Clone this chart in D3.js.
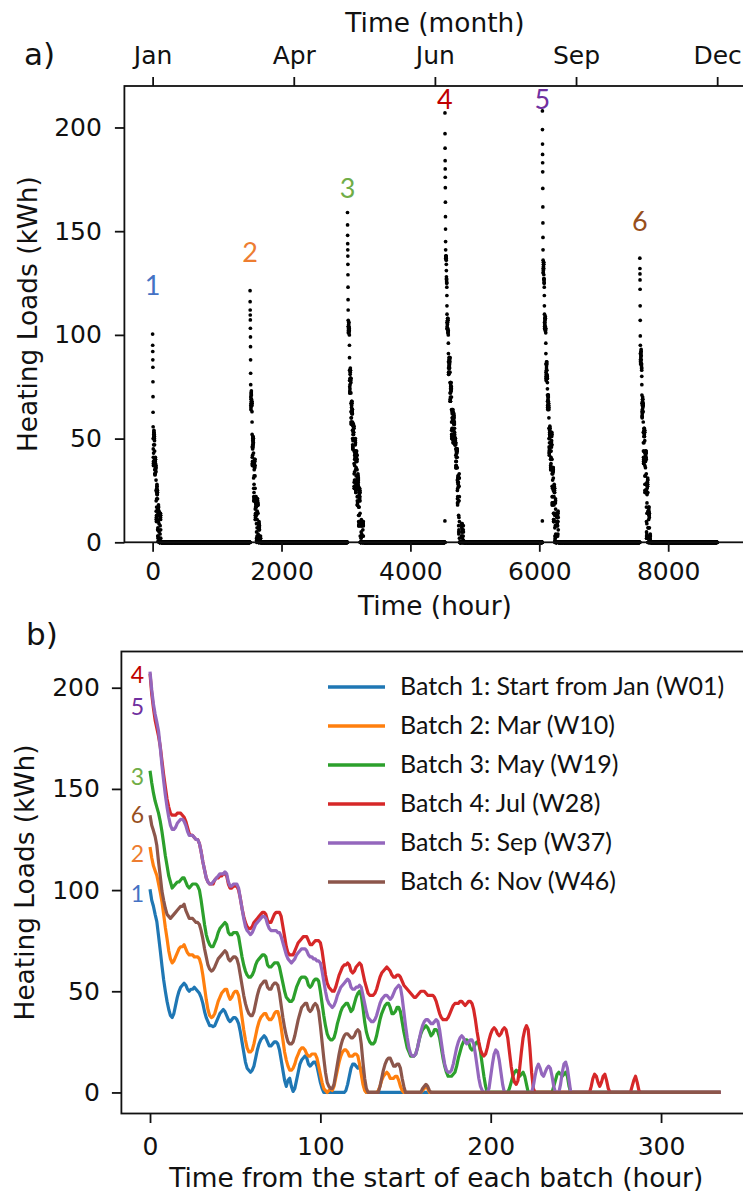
<!DOCTYPE html>
<html>
<head>
<meta charset="utf-8">
<script src="https://cdn.jsdelivr.net/npm/d3@7"></script>
<style>
  body { margin: 0; background: #fff; }
  svg text { font-family: "DejaVu Sans", sans-serif; fill: #111; }
  .note { font-family: Lato, "Open Sans", sans-serif; }
</style>
</head>
<body>
<div id="chart"></div>
<script>
// Batches are two weeks long, hourly loads in kWh; hours after the listed values are zero
const BATCH_HOURS = 336
const YEAR_HOURS = 8760

const batchNames = [
    'Batch 1: Start from Jan (W01)',
    'Batch 2: Mar (W10)',
    'Batch 3: May (W19)',
    'Batch 4: Jul (W28)',
    'Batch 5: Sep (W37)',
    'Batch 6: Nov (W46)'
]
const batchStartHours = [0, 1512, 3024, 4536, 6048, 7560]
const lineColors = ['#1f77b4', '#ff7f0e', '#2ca02c', '#d62728', '#9467bd', '#8c564b']
const labelColors = ['#4472c4', '#ed7d31', '#70ad47', '#c00000', '#7030a0', '#974f1c']

const monthTicks = [0, 2190, 4380, 6570, 8760]
const monthLabels = ['Jan', 'Apr', 'Jun', 'Sep', 'Dec']
const hourTicks = [0, 2000, 4000, 6000, 8000]
const batchHourTicks = [0, 100, 200, 300]
const loadTicks = [0, 50, 100, 150, 200]

// where the batch numbers sit (kWh)
const topLabelLoads = [119, 135, 166, 209, 209, 150]
const bottomLabelLoads = [94, 114, 152, 202.5, 186.5, 133]

// two lone points just before batches 4 and 5
const strayPoints = [[4535, 10.3], [6047, 10.3]]

const batch1 = [
    100.4, 95, 92, 88, 84.4, 77.4, 70.2, 62.7, 55.7, 50, 45, 41, 38,
    37, 39, 43, 47, 50, 52, 53, 54, 53, 51, 50, 51, 51, 52, 51, 50, 49, 47, 44, 40, 37, 35, 33, 33, 32.5,
    33, 35, 37, 39, 40, 41, 40, 38, 36, 35, 36, 37, 37, 36, 34, 30, 25, 20, 15, 12, 11, 10, 11,
    13, 17, 21, 24, 26, 27, 28, 27, 25, 23, 23, 24, 25, 25, 24, 21, 16, 11, 6, 3, 6, 7, 3, 0.5,
    2, 6, 10, 14, 16, 17, 18, 17, 14, 13, 14, 15, 15, 13, 9, 5, 2, 0, 0, 0, 0, 0, 0, 0,
    0, 0, 0, 0, 0, 0, 1, 4, 8, 12, 14, 14, 13, 12, 13, 11, 6, 2, 0
]
const batch2 = [
    121.3, 116, 112, 109.6, 107.2, 103.2, 99, 94.3, 88, 81.5, 76, 70, 66,
    64, 65, 67, 69, 71, 72, 72, 73, 71, 69, 68, 68, 68, 67, 67, 67, 66, 63, 58, 52, 46, 41, 38, 37, 37.5,
    39, 42, 45, 47, 49, 50, 51, 51, 48, 46, 47, 49, 50, 50, 48, 43, 37, 31, 26, 22, 20, 20, 21,
    24, 28, 32, 35, 37, 38, 39, 39, 37, 36, 36, 37, 39, 40, 40, 37, 32, 26, 20, 16, 13, 11, 11, 12,
    14, 17, 19, 21, 22, 22, 21, 19, 18, 18, 19, 19, 19, 17, 13, 9, 5, 2, 1, 0, 1, 2, 1, 3,
    7, 11, 15, 18, 20, 21, 21, 20, 18, 18, 18, 19, 19, 18, 14, 9, 4, 1, 0, 0, 0, 0, 0, 0,
    0, 1, 3, 6, 8, 9, 10, 9, 7, 7, 7, 8, 8, 6, 3, 1,
    0, 0, 0, 0, 0, 0, 0, 0, 0, 0, 0, 1, 2, 3, 2, 0
]
const batch3 = [
    159, 153, 148, 144, 141, 138, 134, 129, 123, 117, 112, 107, 104,
    101, 102, 103, 104, 104, 105, 106, 106, 104, 102, 101, 102, 103, 103, 103, 102, 100, 95, 89, 83, 78, 75, 73, 72, 72,
    74, 76, 79, 81, 82, 83, 84, 83, 79, 78, 78, 79, 79, 79, 77, 72, 67, 63, 60, 58, 57, 57, 58,
    60, 63, 65, 66, 67, 68, 68, 67, 63, 62, 62, 63, 64, 64, 64, 62, 58, 54, 50, 47, 46, 45, 45, 46,
    49, 52, 54, 56, 57, 57, 57, 56, 53, 52, 53, 55, 56, 56, 55, 50, 44, 38, 33, 29, 27, 26, 26, 27,
    30, 34, 37, 40, 42, 43, 44, 44, 42, 40, 41, 44, 47, 49, 50, 48, 42, 35, 30, 27, 25, 24, 24, 25,
    28, 32, 36, 39, 41, 43, 44, 44, 42, 39, 39, 40, 42, 42, 40, 35, 30, 26, 22, 20, 18, 18, 18, 19,
    22, 26, 29, 31, 32, 33, 32, 30, 28, 29, 31, 31, 30, 27, 22, 17, 13, 10, 8, 8, 8, 9, 10, 13,
    17, 20, 23, 25, 26, 26, 25, 22, 21, 22, 24, 25, 24, 20, 14, 8, 3, 0, 0, 0, 0, 0, 0, 0,
    0, 0, 0, 0, 0, 0, 2, 5, 8, 10, 11, 10, 8, 9, 10, 8, 4, 0, 0, 0, 0, 0, 0, 0,
    0, 0, 0, 0, 0, 0, 0, 0, 3, 6, 9, 10, 9, 8, 9, 10, 8, 3, 0
]
const batch4 = [
    207, 197, 190, 184, 180, 176, 171, 164, 157, 151, 145, 141, 138,
    137, 137, 137, 138, 138, 138, 137, 136, 134, 131, 128, 127, 127, 126, 125, 125, 123, 119, 114, 110, 106, 104, 103, 103, 103,
    105, 106, 106, 107, 107, 108, 108, 107, 103, 101, 101, 102, 102, 102, 100, 96, 91, 87, 84, 82, 81, 81, 82,
    84, 85, 86, 87, 88, 89, 89, 88, 85, 84, 84, 86, 88, 89, 89, 89, 87, 82, 77, 72, 69, 68, 68, 68,
    70, 72, 74, 75, 76, 77, 77, 77, 75, 73, 73, 74, 75, 75, 75, 74, 70, 64, 58, 54, 52, 51, 50, 50,
    52, 55, 58, 60, 62, 63, 63, 64, 63, 60, 59, 60, 62, 63, 64, 63, 59, 55, 52, 49, 48, 48, 48, 49,
    51, 54, 57, 59, 60, 61, 62, 61, 60, 58, 57, 57, 58, 58, 57, 55, 53, 52, 51, 50, 49, 48, 47, 47,
    48, 49, 50, 50, 50, 49, 48, 48, 48, 48, 47, 45, 42, 39, 37, 36, 36, 36, 37, 39, 41, 43, 44, 44,
    44, 45, 45, 44, 43, 44, 45, 45, 44, 41, 36, 30, 25, 21, 19, 18, 19, 22, 26, 29, 31, 32, 31, 29,
    28, 29, 31, 32, 31, 27, 20, 13, 8, 5, 4, 6, 12, 20, 27, 31, 33, 31, 22, 10, 2, 0, 0, 0,
    0, 0, 0, 0, 0, 0, 0, 0, 0, 0, 0, 0, 0, 0, 0, 0, 0, 0, 0, 0, 0, 0, 0, 0,
    0, 0, 0, 0, 0, 0, 3, 7, 9, 8, 5, 3, 5, 8, 9, 6, 2, 0, 0, 0, 0, 0, 0, 0,
    0, 0, 0, 0, 0, 0, 3, 6, 8, 5, 1, 0
]
const batch5 = [
    208, 199, 192, 187, 183, 178.6, 170.6, 161.7, 154, 147, 141, 136, 132,
    130, 130, 131, 133, 134, 135, 135, 134, 132, 129, 127, 127, 127, 126, 125, 125, 123, 119, 114, 110, 106, 104, 103, 103, 104,
    105, 106, 107, 108, 108, 108, 109, 108, 104, 102, 102, 103, 103, 103, 101, 96, 91, 86, 82, 80, 79, 78, 79,
    81, 83, 84, 85, 86, 87, 87, 86, 83, 81, 80, 80, 80, 80, 79, 79, 77, 74, 71, 68, 66, 65, 64, 65,
    66, 68, 69, 70, 71, 71, 71, 70, 68, 67, 67, 66, 66, 65, 65, 64, 60, 55, 50, 46, 44, 43, 42, 43,
    45, 48, 50, 52, 53, 54, 55, 56, 55, 52, 51, 51, 52, 52, 53, 52, 48, 44, 40, 37, 36, 35, 35, 36,
    38, 41, 44, 46, 47, 48, 48, 47, 46, 47, 49, 51, 52, 53, 52, 47, 40, 33, 27, 22, 19, 18, 18, 19,
    22, 26, 30, 33, 35, 36, 36, 35, 34, 34, 35, 36, 35, 31, 25, 19, 14, 11, 10, 10, 11, 14, 18, 22,
    25, 27, 28, 27, 25, 24, 25, 26, 26, 24, 19, 13, 7, 3, 1, 0, 0, 0, 2, 8, 14, 19, 21, 20,
    16, 10, 4, 0, 0, 0, 0, 0, 0, 0, 0, 0, 0, 0, 0, 0, 0, 0, 0, 0, 3, 8, 12, 14,
    12, 9, 8, 10, 12, 13, 12, 8, 3, 0, 0, 0, 4, 10, 14, 15, 12, 6, 0
]
const batch6 = [
    137, 132, 129.4, 126.5, 122, 114, 107, 99.5, 95, 91, 88, 87, 86,
    87, 88, 89, 90, 91, 92, 92, 93, 90, 88, 86, 86, 86, 85, 84, 84, 83, 80, 76, 71, 67, 63, 61, 60, 60.5,
    62, 64, 66, 67, 68, 69, 70, 69, 66, 65, 66, 67, 67, 66, 63, 58, 53, 48, 44, 41, 39, 38, 38,
    40, 44, 48, 51, 53, 54, 55, 55, 52, 51, 51, 53, 54, 54, 53, 49, 43, 37, 32, 28, 25, 24, 24, 25,
    28, 32, 36, 39, 42, 43, 44, 44, 41, 40, 41, 43, 44, 43, 40, 33, 25, 17, 10, 5, 3, 2, 2, 4,
    9, 14, 19, 23, 26, 28, 29, 29, 28, 27, 27, 28, 30, 31, 30, 24, 15, 7, 2, 0, 0, 0, 0, 0,
    0, 0, 3, 7, 11, 14, 16, 17, 17, 15, 13, 13, 14, 14, 12, 7, 3, 0,
    0, 0, 0, 0, 0, 0, 0, 0, 0, 2, 3, 4, 3, 1, 0
]
const batchLoads = [batch1, batch2, batch3, batch4, batch5, batch6]

const batches = batchLoads.map((values, i) => ({
    index: i,
    start: batchStartHours[i],
    series: d3.range(BATCH_HOURS).map(t => ({ t, load: t < values.length ? values[t] : 0 }))
}))

const svg = d3.select('#chart')
    .append('svg')
    .attr('width', 743)
    .attr('height', 1194)

const TICK_FONT = 25
const LABEL_FONT = 26.4

function styleAxis(g) {
    g.select('.domain').remove()
    g.selectAll('.tick line').attr('stroke', '#111').attr('stroke-width', 1.8)
    g.selectAll('.tick text')
        .style('font-size', TICK_FONT + 'px')
        .attr('fill', '#111')
}

function frame(g, x0, y0, x1, y1) {
    g.append('rect')
        .attr('x', x0).attr('y', y0)
        .attr('width', x1 - x0).attr('height', y1 - y0)
        .attr('fill', 'none')
        .attr('stroke', '#111')
        .attr('stroke-width', 1.8)
}

// ---------- a) heating loads over the year ----------
const xa = d3.scaleLinear().domain([-438, 9198]).range([124.4, 745.4])
const ya = d3.scaleLinear().domain([0, 220]).range([542.3, 86])

const panelA = svg.append('g')

const yearZeros = d3.range(YEAR_HOURS)
    .filter(h => !batchStartHours.some(s => h >= s && h < s + BATCH_HOURS))
    .map(h => [h, 0])
const batchPoints = batches.flatMap(b => b.series.map(d => [b.start + d.t, d.load]))
const scatter = yearZeros.concat(strayPoints, batchPoints)

panelA.append('g')
    .selectAll('circle')
    .data(scatter)
    .enter()
    .append('circle')
    .attr('cx', d => xa(d[0]))
    .attr('cy', d => ya(d[1]))
    .attr('r', 1.85)
    .attr('fill', '#000')

frame(panelA, xa.range()[0], ya.range()[1], xa.range()[1], ya.range()[0])

panelA.append('g')
    .attr('transform', `translate(0,${ya(0)})`)
    .call(d3.axisBottom(xa).tickValues(hourTicks).tickSize(9.5).tickPadding(10.5).tickFormat(d3.format('d')))
    .call(styleAxis)

panelA.append('g')
    .attr('transform', `translate(${xa.range()[0]},0)`)
    .call(d3.axisLeft(ya).tickValues(loadTicks).tickSize(9.5).tickPadding(13))
    .call(styleAxis)

panelA.append('g')
    .attr('transform', `translate(0,${ya.range()[1]})`)
    .call(d3.axisTop(xa).tickValues(monthTicks).tickSize(9).tickPadding(13).tickFormat((d, i) => monthLabels[i]))
    .call(styleAxis)

const midA = (xa.range()[0] + xa.range()[1]) / 2
panelA.append('text')
    .attr('x', midA).attr('y', 32)
    .attr('text-anchor', 'middle')
    .style('font-size', LABEL_FONT + 'px')
    .text('Time (month)')
panelA.append('text')
    .attr('x', midA).attr('y', 615)
    .attr('text-anchor', 'middle')
    .style('font-size', LABEL_FONT + 'px')
    .text('Time (hour)')
panelA.append('text')
    .attr('transform', `translate(37,${(ya.range()[0] + ya.range()[1]) / 2}) rotate(-90)`)
    .attr('text-anchor', 'middle')
    .style('font-size', LABEL_FONT + 'px')
    .text('Heating Loads (kWh)')
panelA.append('text')
    .attr('x', 24).attr('y', 65)
    .style('font-size', '31px')
    .text('a)')

panelA.selectAll('.peak-label')
    .data(batches)
    .enter()
    .append('text')
    .attr('class', 'note')
    .attr('x', d => xa(d.start))
    .attr('y', d => ya(topLabelLoads[d.index]))
    .attr('text-anchor', 'middle')
    .style('font-size', '27px')
    .style('fill', d => labelColors[d.index])
    .text(d => d.index + 1)

// ---------- b) loads from the start of each batch ----------
const xb = d3.scaleLinear().domain([-16.8, 352.8]).range([121.4, 751])
const yb = d3.scaleLinear().domain([-10.4, 217.9]).range([1113.5, 651.5])

const panelB = svg.append('g')

const line = d3.line()
    .x(d => xb(d.t))
    .y(d => yb(d.load))

panelB.selectAll('.batch-line')
    .data(batches)
    .enter()
    .append('path')
    .attr('class', 'batch-line')
    .attr('d', d => line(d.series))
    .attr('fill', 'none')
    .attr('stroke', d => lineColors[d.index])
    .attr('stroke-width', 3.2)
    .attr('stroke-linejoin', 'round')

frame(panelB, xb.range()[0], yb.range()[1], xb.range()[1], yb.range()[0])

panelB.append('g')
    .attr('transform', `translate(0,${yb.range()[0]})`)
    .call(d3.axisBottom(xb).tickValues(batchHourTicks).tickSize(9.5).tickPadding(14))
    .call(styleAxis)

panelB.append('g')
    .attr('transform', `translate(${xb.range()[0]},0)`)
    .call(d3.axisLeft(yb).tickValues(loadTicks).tickSize(9.5).tickPadding(12))
    .call(styleAxis)

panelB.append('text')
    .attr('x', (xb.range()[0] + xb.range()[1]) / 2).attr('y', 1187)
    .attr('text-anchor', 'middle')
    .style('font-size', LABEL_FONT + 'px')
    .text('Time from the start of each batch (hour)')
panelB.append('text')
    .attr('transform', `translate(34,${(yb.range()[0] + yb.range()[1]) / 2}) rotate(-90)`)
    .attr('text-anchor', 'middle')
    .style('font-size', LABEL_FONT + 'px')
    .text('Heating Loads (kWh)')
panelB.append('text')
    .attr('x', 26).attr('y', 645)
    .style('font-size', '31px')
    .text('b)')

panelB.selectAll('.start-label')
    .data(batches)
    .enter()
    .append('text')
    .attr('class', 'note')
    .attr('x', xb(0) - 6)
    .attr('y', d => yb(bottomLabelLoads[d.index]))
    .attr('text-anchor', 'end')
    .style('font-size', '23px')
    .style('fill', d => labelColors[d.index])
    .text(d => d.index + 1)

const legend = panelB.append('g')
    .selectAll('g')
    .data(batches)
    .enter()
    .append('g')
    .attr('transform', d => `translate(328,${687 + d.index * 39})`)

legend.append('line')
    .attr('x1', 0).attr('x2', 57)
    .attr('stroke', d => lineColors[d.index])
    .attr('stroke-width', 3.5)

legend.append('text')
    .attr('class', 'note')
    .attr('x', 72).attr('y', 8)
    .style('font-size', '25px')
    .text(d => batchNames[d.index])
</script>
</body>
</html>
